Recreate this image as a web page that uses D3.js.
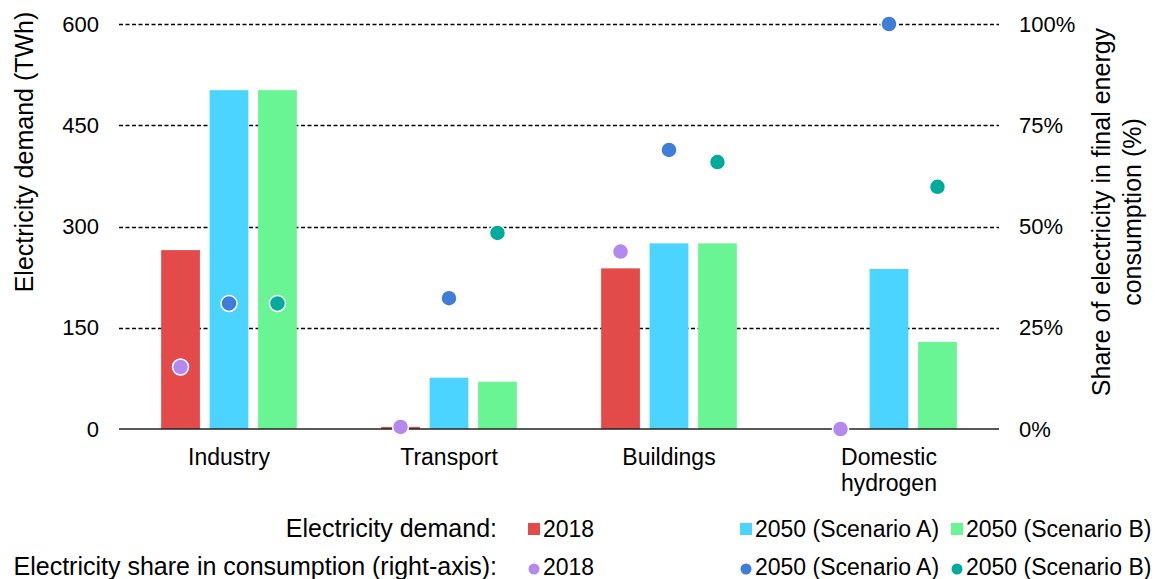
<!DOCTYPE html>
<html>
<head>
<meta charset="utf-8">
<script src="https://cdn.jsdelivr.net/npm/d3@7"></script>
<style>
  body { margin: 0; background: #fff; }
  text { font-family: "Liberation Sans", Arial, sans-serif; fill: #000; }
</style>
</head>
<body>
<svg id="chart" width="1155" height="579"></svg>
<script>
// data
const categories = ["Industry", "Transport", "Buildings", "Domestic hydrogen"]
const seriesNames = ["2018", "2050 (Scenario A)", "2050 (Scenario B)"]
const demand2018 = [265, 3, 238, 0]
const demandA = [502, 76, 275, 237]
const demandB = [502, 70, 275, 129]
const share2018 = [15.3, 0.5, 43.8, 0]
const shareA = [31, 32.3, 68.9, 100]
const shareB = [31, 48.4, 65.9, 59.8]
const leftTicks = [0, 150, 300, 450, 600]
const rightTicks = [0, 25, 50, 75, 100]

const barColors = ["#E24B4A", "#4AD4FF", "#6AF594"]
const dotColors = ["#B389EE", "#3F7DD8", "#00AB9C"]

const svg = d3.select("#chart")
const MARGINS = { left: 119, right: 156, top: 24, bottom: 150 }
const W = 1155, H = 579

const x = d3.scaleBand().domain(categories).range([MARGINS.left, W - MARGINS.right])
const sub = d3.scaleBand().domain(seriesNames).range([-67.85, 67.85]).paddingInner(0.2)
const yL = d3.scaleLinear().domain([0, 600]).range([H - MARGINS.bottom, MARGINS.top])
const yR = d3.scaleLinear().domain([0, 100]).range([H - MARGINS.bottom, MARGINS.top])

// grid lines (dashed)
svg.append("g")
  .selectAll("line")
  .data(leftTicks.filter(d => d > 0))
  .join("line")
    .attr("x1", MARGINS.left)
    .attr("x2", W - MARGINS.right)
    .attr("y1", d => Math.round(yL(d)) + 0.5)
    .attr("y2", d => Math.round(yL(d)) + 0.5)
    .attr("stroke", "#000")
    .attr("stroke-width", 1.3)
    .attr("stroke-dasharray", "4,2.5")

// left axis
const leftAxis = d3.axisLeft(yL).tickValues(leftTicks).tickSize(0).tickPadding(20)
const gl = svg.append("g").attr("transform", `translate(${MARGINS.left},0)`).call(leftAxis)
gl.select(".domain").remove()
gl.selectAll("text").style("font-size", "22px").style("font-family", "Liberation Sans, Arial, sans-serif")

// right axis
const rightAxis = d3.axisRight(yR).tickValues(rightTicks).tickSize(0).tickPadding(20)
  .tickFormat(d => d + "%")
const gr = svg.append("g").attr("transform", `translate(${W - MARGINS.right},0)`).call(rightAxis)
gr.select(".domain").remove()
gr.selectAll("text").style("font-size", "22px").style("font-family", "Liberation Sans, Arial, sans-serif")

// bars
const barSets = [demand2018, demandA, demandB]
barSets.forEach((vals, si) => {
  svg.append("g")
    .selectAll("rect")
    .data(vals.map((v, i) => ({ cat: categories[i], v })))
    .join("rect")
      .attr("x", d => x(d.cat) + x.bandwidth() / 2 + sub(seriesNames[si]))
      .attr("width", sub.bandwidth())
      .attr("y", d => yL(d.v))
      .attr("height", d => yL(0) - yL(d.v))
      .attr("fill", barColors[si])
})

// baseline
svg.append("line")
  .attr("x1", MARGINS.left)
  .attr("x2", W - MARGINS.right)
  .attr("y1", yL(0))
  .attr("y2", yL(0))
  .attr("stroke", "#222")
  .attr("stroke-width", 1.6)

// category labels
const catG = svg.append("g")
categories.forEach(c => {
  const words = c === "Domestic hydrogen" ? ["Domestic", "hydrogen"] : [c]
  const cx = x(c) + x.bandwidth() / 2
  const t = catG.append("text")
    .attr("x", cx)
    .attr("y", 465)
    .attr("text-anchor", "middle")
    .style("font-size", "23px")
  words.forEach((w, i) => {
    t.append("tspan").attr("x", cx).attr("dy", i === 0 ? 0 : 26).text(w)
  })
})

// dots
const dotSets = [share2018, shareA, shareB]
dotSets.forEach((vals, si) => {
  svg.append("g")
    .selectAll("circle")
    .data(vals.map((v, i) => ({ cat: categories[i], v })))
    .join("circle")
      .attr("cx", d => x(d.cat) + x.bandwidth() / 2 + sub(seriesNames[si]) + sub.bandwidth() / 2)
      .attr("cy", d => yR(d.v))
      .attr("r", 8)
      .attr("fill", dotColors[si])
      .attr("stroke", "#fff")
      .attr("stroke-width", 1.5)
})

// axis titles
svg.append("text")
  .attr("transform", "translate(33,152) rotate(-90)")
  .attr("text-anchor", "middle")
  .style("font-size", "25px")
  .text("Electricity demand (TWh)")

const rt = svg.append("text")
  .attr("transform", "translate(1110,212) rotate(-90)")
  .attr("text-anchor", "middle")
  .style("font-size", "25px")
rt.append("tspan").attr("x", 0).attr("dy", 0).text("Share of electricity in final energy")
rt.append("tspan").attr("x", 0).attr("dy", 31).text("consumption (%)")

// legend
const legX = [528, 740, 951]
const legRows = [537, 575]
svg.append("text").attr("x", 497).attr("y", legRows[0]).attr("text-anchor", "end")
  .style("font-size", "25px").text("Electricity demand:")
svg.append("text").attr("x", 497).attr("y", legRows[1]).attr("text-anchor", "end")
  .style("font-size", "25px").text("Electricity share in consumption (right-axis):")

seriesNames.forEach((s, i) => {
  svg.append("rect")
    .attr("x", legX[i])
    .attr("y", legRows[0] - 14)
    .attr("width", 12)
    .attr("height", 12)
    .attr("fill", barColors[i])
  svg.append("text")
    .attr("x", legX[i] + 15)
    .attr("y", legRows[0])
    .style("font-size", "23px")
    .text(s)
  svg.append("circle")
    .attr("cx", legX[i] + 6)
    .attr("cy", 569)
    .attr("r", 5.5)
    .attr("fill", dotColors[i])
  svg.append("text")
    .attr("x", legX[i] + 15)
    .attr("y", legRows[1])
    .style("font-size", "23px")
    .text(s)
})
</script>
</body>
</html>
